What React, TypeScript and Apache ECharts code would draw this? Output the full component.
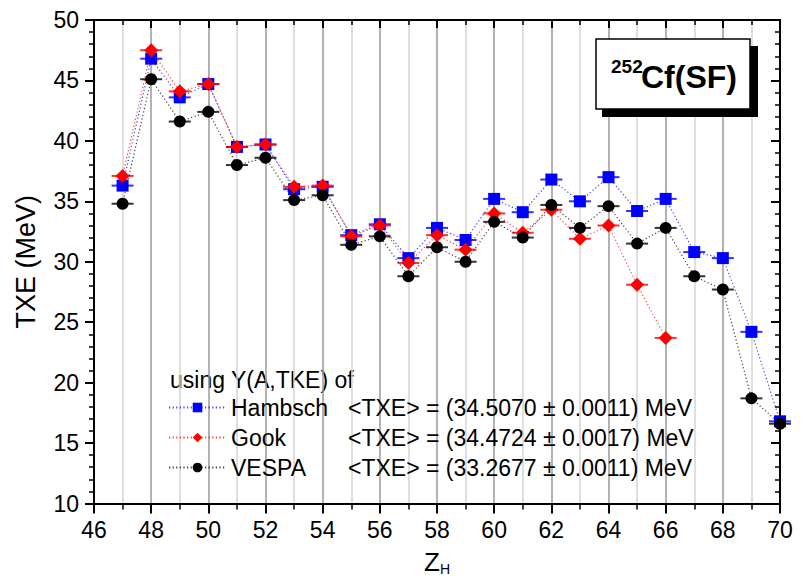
import React, { useEffect, useRef } from "react";
import * as echarts from "echarts";

const zH = [47, 48, 49, 50, 51, 52, 53, 54, 55, 56, 57, 58, 59, 60, 61, 62, 63, 64, 65, 66, 67, 68, 69, 70];
const hambsch = [36.3, 46.8, 43.6, 44.7, 39.5, 39.7, 36.0, 36.2, 32.2, 33.1, 30.3, 32.8, 31.8, 35.2, 34.1, 36.8, 35.0, 37.0, 34.2, 35.2, 30.8, 30.3, 24.2, 16.8];
const gook = [37.1, 47.5, 44.1, 44.7, 39.5, 39.7, 36.2, 36.3, 32.1, 33.0, 29.9, 32.2, 31.0, 34.0, 32.4, 34.3, 31.9, 33.0, 28.1, 23.7];
const vespa = [34.8, 45.1, 41.6, 42.4, 38.0, 38.6, 35.1, 35.5, 31.4, 32.1, 28.8, 31.2, 30.0, 33.3, 32.0, 34.7, 32.8, 34.6, 31.5, 32.8, 28.8, 27.7, 18.7, 16.6];

const seriesNames = ["Hambsch", "Gook", "VESPA"];
const meanTXE = ["(34.5070 ± 0.0011) MeV", "(34.4724 ± 0.0017) MeV", "(33.2677 ± 0.0011) MeV"];
const colors = ["#0000ff", "#ff0000", "#000000"];
const symbols = ["rect", "diamond", "circle"];
const symbolSizes = [12, 14, 12];
const allValues = [hambsch, gook, vespa];

const FONT = "'Liberation Sans', Arial, sans-serif";

export default function App() {
  const ref = useRef<HTMLDivElement>(null);
  useEffect(() => {
    if (!ref.current) return;
    const chart = echarts.init(ref.current, null, { renderer: "svg" });
    const pts = (vals: number[]) => vals.map((v, i) => [zH[i], v]);

    const series: any[] = [];
    allValues.forEach((vals, k) => {
      series.push({
        name: seriesNames[k] + "_err",
        type: "scatter",
        data: pts(vals),
        symbol: "rect",
        symbolSize: [22, 2],
        itemStyle: { color: colors[k] },
        z: 3 + k * 2,
        silent: true,
      });
      series.push({
        name: seriesNames[k],
        type: "line",
        data: pts(vals),
        symbol: symbols[k],
        symbolSize: symbolSizes[k],
        showAllSymbol: true,
        itemStyle: { color: colors[k] },
        lineStyle: { color: colors[k], width: 1.2, type: [1.2, 2.4], opacity: 0.75 },
        z: 4 + k * 2,
      });
    });

    const axisCommon = {
      type: "value",
      axisLine: { show: true, lineStyle: { color: "#000", width: 2 } },
    };

    chart.setOption({
      animation: false,
      textStyle: { fontFamily: FONT },
      grid: { left: 94, right: 24, top: 20, bottom: 73.5, containLabel: false, outerBoundsMode: "none" },
      xAxis: [
        {
          ...axisCommon,
          position: "bottom",
          min: 46,
          max: 70,
          interval: 2,
          name: "{z|Z}{h|H}",
          nameLocation: "middle",
          nameGap: 45,
          nameTextStyle: {
            fontSize: 26,
            color: "#000",
            fontFamily: FONT,
            rich: {
              z: { fontSize: 26, lineHeight: 26, color: "#000", fontFamily: FONT, verticalAlign: "top" },
              h: { fontSize: 14, lineHeight: 14, color: "#000", fontFamily: FONT, verticalAlign: "top", padding: [13, 0, 0, 0] },
            },
          },
          axisTick: { show: true, inside: false, length: 10, lineStyle: { color: "#000", width: 2 } },
          minorTick: { show: true, splitNumber: 2, length: 6, lineStyle: { color: "#000", width: 1.5 } },
          axisLabel: { fontSize: 23, color: "#000", margin: 15, fontFamily: FONT },
          splitLine: { show: true, lineStyle: { color: "#9a9a9a", width: 1.5 } },
          minorSplitLine: { show: true, lineStyle: { color: "#d4d4d4", width: 1.5 } },
        },
        {
          ...axisCommon,
          position: "top",
          min: 46,
          max: 70,
          interval: 2,
          axisTick: { show: true, inside: true, length: 8, lineStyle: { color: "#000", width: 2 } },
          minorTick: { show: true, splitNumber: 2, length: 5, lineStyle: { color: "#000", width: 1.5 } },
          axisLabel: { show: false },
          splitLine: { show: false },
        },
      ],
      yAxis: [
        {
          ...axisCommon,
          position: "left",
          min: 10,
          max: 50,
          interval: 5,
          name: "TXE (MeV)",
          nameLocation: "middle",
          nameGap: 55,
          nameTextStyle: { fontSize: 27, color: "#000", fontFamily: FONT },
          axisTick: { show: true, inside: false, length: 9, lineStyle: { color: "#000", width: 2 } },
          minorTick: { show: true, splitNumber: 5, length: 5, lineStyle: { color: "#000", width: 1.5 } },
          axisLabel: { fontSize: 23, color: "#000", margin: 15, fontFamily: FONT },
          splitLine: { show: false },
        },
        {
          ...axisCommon,
          position: "right",
          min: 10,
          max: 50,
          interval: 5,
          axisTick: { show: true, inside: true, length: 9, lineStyle: { color: "#000", width: 2 } },
          minorTick: { show: true, splitNumber: 5, length: 5, lineStyle: { color: "#000", width: 1.5 } },
          axisLabel: { show: false },
          splitLine: { show: false },
        },
      ],
      legend: {
        data: seriesNames,
        orient: "vertical",
        left: 168,
        top: 396,
        padding: 0,
        itemWidth: 57,
        itemHeight: 12,
        itemGap: 7,
        formatter: (name: string) => {
          const k = seriesNames.indexOf(name);
          return `{a|${name}}{b|<TXE> = ${meanTXE[k]}}`;
        },
        textStyle: {
          color: "#000",
          fontSize: 23,
          fontFamily: FONT,
          rich: {
            a: { fontSize: 23, width: 117, color: "#000", fontFamily: FONT },
            b: { fontSize: 23, color: "#000", fontFamily: FONT },
          },
        },
      },
      graphic: [
        {
          type: "text",
          left: 170,
          top: 368,
          style: { text: "using Y(A,TKE) of", fontSize: 23, fill: "#000", fontFamily: FONT },
        },
        {
          type: "rect",
          shape: { x: 602, y: 46, width: 156, height: 71 },
          style: { fill: "#000" },
          z: 100,
        },
        {
          type: "rect",
          shape: { x: 596, y: 39, width: 154, height: 70 },
          style: { fill: "#fff", stroke: "#000", lineWidth: 1.5 },
          z: 101,
        },
        {
          type: "text",
          x: 611,
          y: 57,
          style: { text: "252", fontSize: 19, fontWeight: "bold", fill: "#000", fontFamily: FONT },
          z: 102,
        },
        {
          type: "text",
          x: 641,
          y: 61,
          style: { text: "Cf(SF)", fontSize: 32, fontWeight: "bold", fill: "#000", fontFamily: FONT },
          z: 102,
        },
      ],
      series,
    });
    return () => chart.dispose();
  }, []);
  return <div ref={ref} style={{ width: 804, height: 577, position: "absolute", left: 0, top: 0 }} />;
}
